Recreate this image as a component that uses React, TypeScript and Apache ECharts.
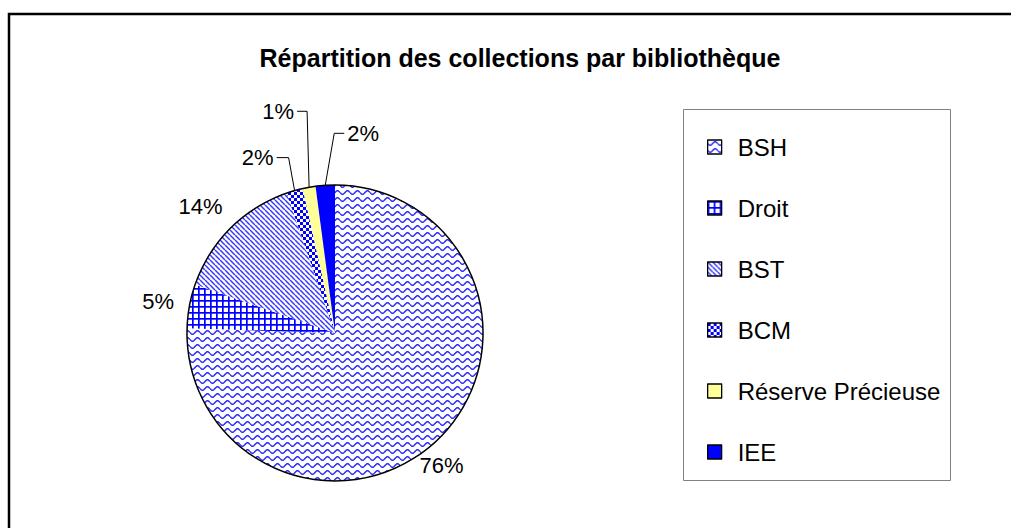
import React, { useEffect, useRef } from "react";
import * as echarts from "echarts";

// ---- data ----
const categories = ["BSH", "Droit", "BST", "BCM", "Réserve Précieuse", "IEE"];
const shares = [75.5, 4.8, 14.4, 1.8, 1.4, 2.1];
const titleText = "Répartition des collections par bibliothèque";

// ---- layout / style (not data) ----
const CX = 335;
const CY = 333;
const R = 148;
const BLUE = "#0000ff";

function makeTile(w: number, h: number, draw: (ctx: CanvasRenderingContext2D) => void) {
  const c = document.createElement("canvas");
  c.width = w;
  c.height = h;
  const ctx = c.getContext("2d")!;
  ctx.fillStyle = "#ffffff";
  ctx.fillRect(0, 0, w, h);
  draw(ctx);
  return { image: c, repeat: "repeat", imageWidth: w, imageHeight: h } as any;
}

function patterns() {
  const wave = makeTile(10, 7, (ctx) => {
    ctx.strokeStyle = "#2a2aff";
    ctx.lineWidth = 1.5;
    ctx.beginPath();
    for (let x = 0; x <= 10; x += 0.5) {
      const y = 3.5 + 1.8 * Math.sin((x / 10) * Math.PI * 2);
      if (x === 0) ctx.moveTo(x, y);
      else ctx.lineTo(x, y);
    }
    ctx.stroke();
  });
  const grid = makeTile(6, 6, (ctx) => {
    ctx.fillStyle = BLUE;
    ctx.fillRect(0, 0, 6, 1.7);
    ctx.fillRect(0, 0, 1.7, 6);
  });
  const diag = makeTile(5, 5, (ctx) => {
    ctx.strokeStyle = "#3a3aff";
    ctx.lineWidth = 1.5;
    ctx.beginPath();
    for (let k = -5; k <= 5; k += 5) {
      ctx.moveTo(k, 0);
      ctx.lineTo(k + 5, 5);
    }
    ctx.stroke();
  });
  const check = makeTile(6, 6, (ctx) => {
    ctx.fillStyle = BLUE;
    ctx.fillRect(0, 0, 3, 3);
    ctx.fillRect(3, 3, 3, 3);
  });
  return [wave, grid, diag, check, "#ffff99", BLUE];
}

// per-slice label placement style: big labels radial, small ones with elbow leader
const labelTweak: [number, number][] = [
  [-23, 7],
  [0, 0],
  [-3, -3],
];
const leaderSpec: { sx: number; rise: number; side: number; len: number }[] = [
  { sx: 0, rise: 0, side: 1, len: 0 },
  { sx: 0, rise: 0, side: 1, len: 0 },
  { sx: 0, rise: 0, side: 1, len: 0 },
  { sx: -6, rise: 33, side: -1, len: 12 },
  { sx: -2, rise: 76, side: -1, len: 10 },
  { sx: 9, rise: 52, side: 1, len: 10 },
];

export default function App() {
  const ref = useRef<HTMLDivElement>(null);
  useEffect(() => {
    document.body.style.margin = "0";
    const chart = echarts.init(ref.current!, undefined, { renderer: "svg" });
    const fills = patterns();
    const FONT = "'Liberation Sans', Arial, sans-serif";
    chart.setOption({
      animation: false,
      backgroundColor: "#ffffff",
      graphic: [
        {
          type: "rect",
          shape: { x: 9, y: 14, width: 1010, height: 530 },
          style: { fill: "none", stroke: "#000", lineWidth: 2.5 },
          silent: true,
          z: 0,
        },
        {
          type: "rect",
          shape: { x: 683.5, y: 109.5, width: 267, height: 371 },
          style: { fill: "none", stroke: "#808080", lineWidth: 1 },
          silent: true,
        },
        {
          type: "text",
          x: 520,
          y: 58,
          style: {
            text: titleText,
            font: `bold 25px ${FONT}`,
            fill: "#000",
            textAlign: "center",
            textVerticalAlign: "middle",
          },
        },
      ],
      legend: {
        orient: "vertical",
        left: 702,
        top: 128,
        icon: "rect",
        itemWidth: 14,
        itemHeight: 14,
        itemGap: 33,
        selectedMode: false,
        itemStyle: { borderColor: "#000", borderWidth: 1.3 },
        textStyle: { fontFamily: FONT, fontSize: 24, color: "#000", lineHeight: 28, padding: [0, 0, 0, 11] },
        data: categories,
      },
      series: [
        {
          type: "pie",
          center: [CX, CY],
          radius: R,
          startAngle: 90,
          clockwise: true,
          avoidLabelOverlap: false,
          silent: true,
          itemStyle: { borderColor: "#000", borderWidth: 0 },
          label: {
            show: true,
            position: "outside",
            fontFamily: FONT,
            fontSize: 22,
            color: "#000",
            formatter: (p: any) => `${Math.round(p.value)}%`,
          },
          labelLine: { show: true, length: 10, length2: 10, lineStyle: { color: "#000", width: 1 } },
          labelLayout: (p: any) => {
            const i = p.dataIndex;
            const pts = p.labelLinePoints;
            if (!pts) return {};
            const p0 = pts[0];
            const spec = leaderSpec[i];
            if (spec.rise > 0) {
              const ex = p0[0] + spec.sx;
              const ey = p0[1] - spec.rise;
              const endX = ex + spec.side * spec.len;
              return {
                x: endX + spec.side * 3,
                y: ey,
                align: spec.side > 0 ? "left" : "right",
                verticalAlign: "middle",
                labelLinePoints: [
                  [p0[0], p0[1]],
                  [ex, ey],
                  [endX, ey],
                ],
              };
            }
            const vx = p0[0] - CX;
            const vy = p0[1] - CY;
            const d = Math.sqrt(vx * vx + vy * vy) || 1;
            const ux = vx / d;
            const uy = vy / d;
            const w = p.labelRect.width;
            const h = p.labelRect.height;
            const gap = 16;
            const t = labelTweak[i] || [0, 0];
            return {
              x: p0[0] + ux * gap + (ux * w) / 2 + t[0],
              y: p0[1] + uy * gap + (uy * h) / 2 + t[1],
              align: "center",
              verticalAlign: "middle",
              labelLinePoints: [
                [p0[0], p0[1]],
                [p0[0], p0[1]],
                [p0[0], p0[1]],
              ],
            };
          },
          data: categories.map((name, i) => ({
            name,
            value: shares[i],
            itemStyle: { color: fills[i] },
          })),
        },
        {
          type: "pie",
          center: [CX, CY],
          radius: R,
          silent: true,
          label: { show: false },
          labelLine: { show: false },
          itemStyle: { color: "none", borderColor: "#000", borderWidth: 1.5 },
          data: [{ value: 1, name: "_outline" }],
          legendHoverLink: false,
        },
      ],
    });
    return () => chart.dispose();
  }, []);
  return <div ref={ref} style={{ width: 1011, height: 528 }} />;
}
